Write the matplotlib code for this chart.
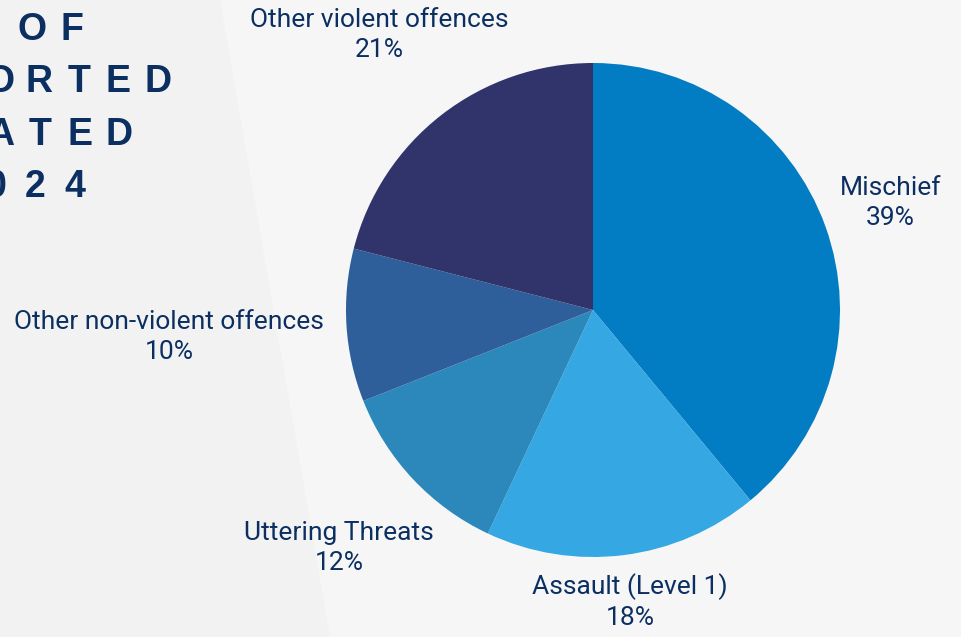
import numpy as np
import matplotlib.pyplot as plt
from matplotlib.patches import Polygon

# ── Data ──────────────────────────────────────────────────────────────────────

categories = ["Mischief", "Assault (Level 1)", "Uttering Threats",
              "Other non-violent offences", "Other violent offences"]
shares     = [39, 18, 12, 10, 21]   # percent
colors     = ["#027cc2", "#35a7e2", "#2c88bb", "#2e5f9a", "#30346b"]
label_dist = [1.28, 1.19, 1.41, 1.72, 1.41]   # label radius / pie radius

title_rows = ["OF", "ORTED", "ATED", "024"]   # left edge of the slide cuts the title

# ── Layout (pixel units, figure is 961 x 637) ─────────────────────────────────

W, H    = 961, 637
CX, CY  = 593, H - 310
R       = 247
NAVY    = "#0c2f62"

fig = plt.figure(figsize=(W / 100, H / 100), dpi=100)
fig.patch.set_facecolor("#f2f2f2")
ax = fig.add_axes([0, 0, 1, 1])

wedges, _ = ax.pie(shares, colors=colors, startangle=90, counterclock=False,
                   center=(CX, CY), radius=R,
                   wedgeprops=dict(linewidth=0))

# pie() resets the limits, so set them afterwards
ax.set_xlim(0, W)
ax.set_ylim(0, H)
ax.set_aspect("equal")
ax.axis("off")

# faint lighter band in the background
ax.add_patch(Polygon([(220, H), (W, H), (W, 0), (330, 0)], closed=True,
                     facecolor="#f6f6f6", edgecolor="none", zorder=0))

for w, name, pct, d in zip(wedges, categories, shares, label_dist):
    mid = np.deg2rad((w.theta1 + w.theta2) / 2)
    x = CX + d * R * np.cos(mid)
    y = CY + d * R * np.sin(mid)
    ax.text(x, y, f"{name}\n{pct}%", ha="center", va="center",
            fontsize=19, color=NAVY, family="Roboto", linespacing=1.32)

# cropped, letter-spaced title on the left edge
last_centre = [72, 158, 119, 75]   # x of each row's last letter
PITCH = 39.5
for i, row in enumerate(title_rows):
    for k, ch in enumerate(reversed(row)):
        ax.text(last_centre[i] - k * PITCH, H - 30 - i * 52.3, ch,
                ha="center", va="center", fontsize=27, fontweight="bold",
                color=NAVY, family="Liberation Sans")

fig.savefig("out.png", dpi=100, facecolor=fig.get_facecolor())
